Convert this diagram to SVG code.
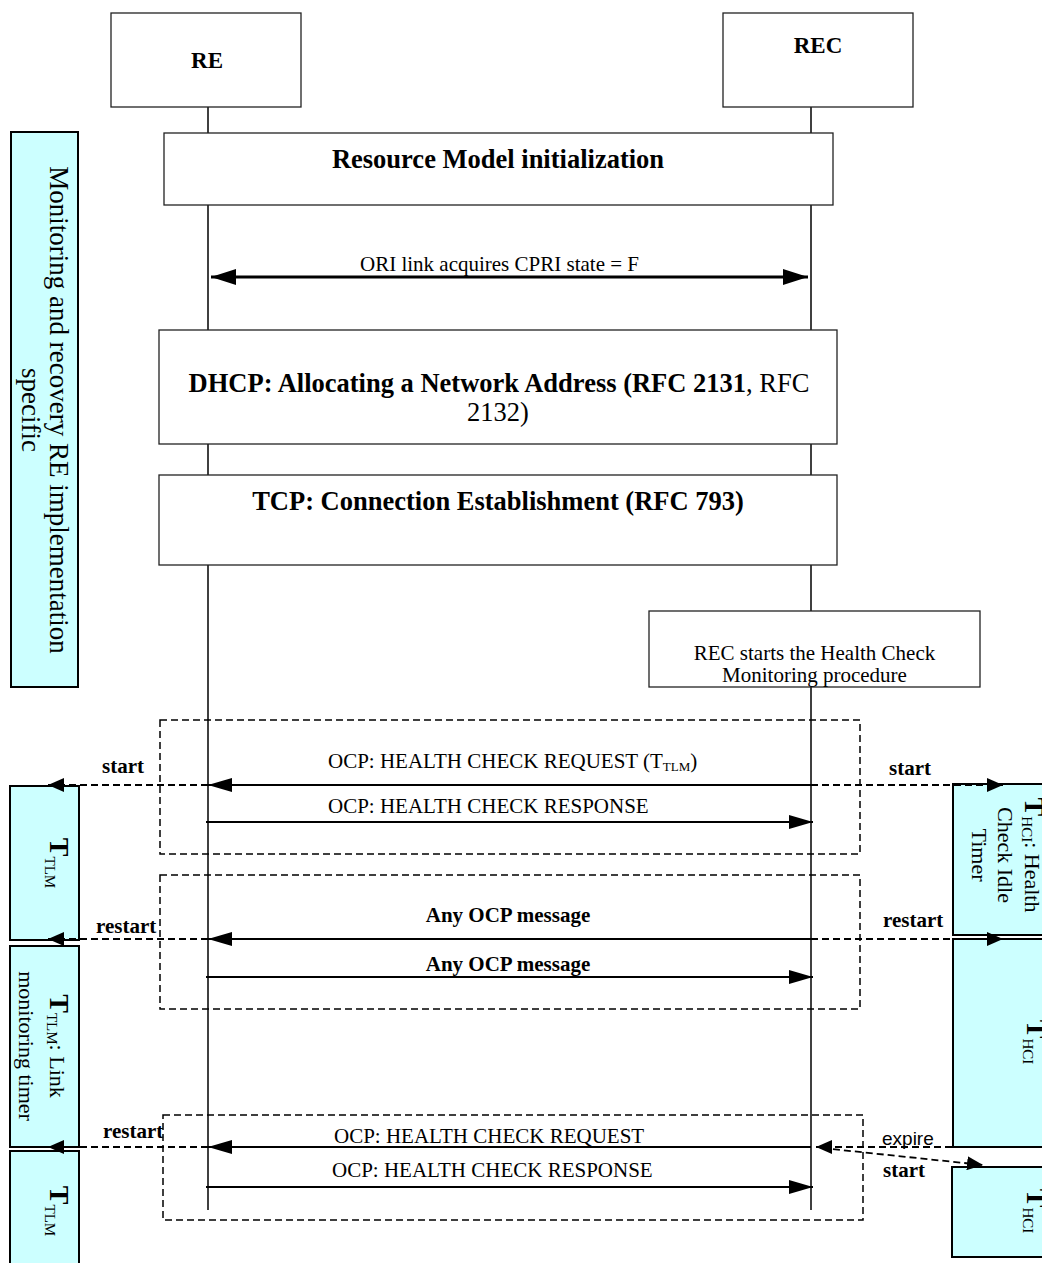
<svg xmlns="http://www.w3.org/2000/svg" width="1042" height="1263" viewBox="0 0 1042 1263">
<style>
.box{fill:#fff;stroke:#222;stroke-width:1.3}
.cyan{fill:#CCFFFF;stroke:#000;stroke-width:2}
.life{stroke:#000;stroke-width:1.5;fill:none}
.dbox{fill:none;stroke:#000;stroke-width:1.5;stroke-dasharray:7 4}
.msg{stroke:#000;stroke-width:1.8;fill:none}
.dash{stroke:#000;stroke-width:1.8;stroke-dasharray:7 4;fill:none}
text{font-family:"Liberation Serif","Times New Roman",serif;fill:#000}
.h{font-size:26.5px;font-weight:bold}
.m{font-size:21px}
.b{font-size:21px;font-weight:bold}
.v{font-size:27px}
.r{font-size:22px}
.big{font-size:28px;font-weight:bold}
.sub{font-size:15px;font-weight:normal}
.sans{font-family:"Liberation Sans",Arial,sans-serif;font-size:19px}
</style>
<defs>
<marker id="ah" markerUnits="userSpaceOnUse" markerWidth="24" markerHeight="14" refX="24" refY="7" orient="auto"><path d="M0,0 L24,7 L0,14 z" fill="#000"/></marker>
<marker id="ahs" markerUnits="userSpaceOnUse" markerWidth="16" markerHeight="14" refX="16" refY="7" orient="auto"><path d="M0,0 L16,7 L0,14 z" fill="#000"/></marker>
<marker id="ahb" markerUnits="userSpaceOnUse" markerWidth="25" markerHeight="16" refX="25" refY="8" orient="auto-start-reverse"><path d="M0,0 L25,8 L0,16 z" fill="#000"/></marker>
</defs>

<g id="lifelines">
<line class="life" x1="208" y1="107" x2="208" y2="1210"/>
<line class="life" x1="811" y1="107" x2="811" y2="1210"/>
</g>

<g id="node-RE"><rect class="box" x="111" y="13" width="190" height="94"/><text class="h" x="207" y="68" text-anchor="middle" style="font-size:23px">RE</text></g>
<g id="node-REC"><rect class="box" x="723" y="13" width="190" height="94"/><text class="h" x="818" y="53" text-anchor="middle" style="font-size:23px">REC</text></g>

<g id="node-rm"><rect class="box" x="164" y="133" width="669" height="72"/><text class="h" x="498" y="168" text-anchor="middle">Resource Model initialization</text></g>

<g id="node-dhcp"><rect class="box" x="159" y="330" width="678" height="114"/>
<text class="h" x="499" y="392" text-anchor="middle">DHCP: Allocating a Network Address (RFC 2131<tspan font-weight="normal">, RFC</tspan></text>
<text class="h" x="498" y="421" text-anchor="middle" style="font-weight:normal">2132)</text></g>

<g id="node-tcp"><rect class="box" x="159" y="475" width="678" height="90"/><text class="h" x="498" y="510" text-anchor="middle">TCP: Connection Establishment (RFC 793)</text></g>

<g id="node-hcstart"><rect class="box" x="649" y="611" width="331" height="76"/>
<text class="m" x="814.5" y="660" text-anchor="middle">REC starts the Health Check</text>
<text class="m" x="814.5" y="682" text-anchor="middle">Monitoring procedure</text></g>

<g id="node-monitor"><rect class="cyan" x="11" y="132" width="67" height="555"/>
<g transform="translate(44,410) rotate(90)">
<text class="v" x="0" y="-6" text-anchor="middle">Monitoring and recovery RE implementation</text>
<text class="v" x="0" y="22" text-anchor="middle">specific</text></g></g>

<g id="dashed-groups">
<rect class="dbox" x="160" y="720" width="700" height="134"/>
<rect class="dbox" x="160" y="875" width="700" height="134"/>
<rect class="dbox" x="163" y="1115" width="700" height="105"/>
</g>

<g id="node-ttlm1"><rect class="cyan" x="10" y="786" width="69" height="154"/>
<g transform="translate(44,863) rotate(90)"><text x="0" y="-6" text-anchor="middle"><tspan class="big">T</tspan><tspan class="sub" dy="5">TLM</tspan></text></g></g>
<g id="node-ttlm2"><rect class="cyan" x="10" y="946" width="69" height="201"/>
<g transform="translate(44,1046) rotate(90)"><text x="0" y="-6" text-anchor="middle"><tspan class="big">T</tspan><tspan class="sub" dy="3">TLM</tspan><tspan class="r" dy="-3">: Link</tspan></text>
<text class="r" x="0" y="25" text-anchor="middle">monitoring timer</text></g></g>
<g id="node-ttlm3"><rect class="cyan" x="10" y="1151" width="69" height="120"/>
<g transform="translate(44,1211) rotate(90)"><text x="0" y="-6" text-anchor="middle"><tspan class="big">T</tspan><tspan class="sub" dy="5">TLM</tspan></text></g></g>

<g id="node-thci1"><rect class="cyan" x="953" y="784" width="100" height="151"/>
<g transform="translate(1000,855) rotate(90)"><text x="0" y="-25" text-anchor="middle"><tspan class="big">T</tspan><tspan class="sub" dy="3">HCI</tspan><tspan class="r" dy="-3">: Health</tspan></text>
<text class="r" x="0" y="2" text-anchor="middle">Check Idle</text>
<text class="r" x="0" y="28" text-anchor="middle">Timer</text></g></g>
<g id="node-thci2"><rect class="cyan" x="953" y="939" width="100" height="208"/>
<g transform="translate(1000,1042) rotate(90)"><text x="0" y="-27" text-anchor="middle"><tspan class="big">T</tspan><tspan class="sub" dy="4">HCI</tspan></text></g></g>
<g id="node-thci3"><rect class="cyan" x="952" y="1167" width="100" height="90"/>
<g transform="translate(1000,1211) rotate(90)"><text x="0" y="-27" text-anchor="middle"><tspan class="big">T</tspan><tspan class="sub" dy="4">HCI</tspan></text></g></g>

<g id="connectors">
<line x1="211" y1="277" x2="808" y2="277" stroke="#000" stroke-width="3" marker-start="url(#ahb)" marker-end="url(#ahb)"/>
<line class="msg" x1="811" y1="785" x2="208" y2="785" marker-end="url(#ah)"/>
<line class="msg" x1="206" y1="822" x2="813" y2="822" marker-end="url(#ah)"/>
<line class="msg" x1="811" y1="939" x2="208" y2="939" marker-end="url(#ah)"/>
<line class="msg" x1="206" y1="977" x2="813" y2="977" marker-end="url(#ah)"/>
<line class="msg" x1="811" y1="1147" x2="208" y2="1147" marker-end="url(#ah)"/>
<line class="msg" x1="206" y1="1187" x2="813" y2="1187" marker-end="url(#ah)"/>
<line class="dash" x1="208" y1="785" x2="48" y2="785" marker-end="url(#ahs)"/>
<line class="dash" x1="208" y1="939" x2="48" y2="939" marker-end="url(#ahs)"/>
<line class="dash" x1="208" y1="1147" x2="48" y2="1147" marker-end="url(#ahs)"/>
<line class="dash" x1="811" y1="785" x2="1003" y2="785" marker-end="url(#ahs)"/>
<line class="dash" x1="811" y1="939" x2="1003" y2="939" marker-end="url(#ahs)"/>
<line class="dash" x1="952" y1="1147" x2="816" y2="1147" marker-end="url(#ahs)"/>
<line class="dash" x1="822" y1="1148" x2="983" y2="1165" marker-end="url(#ahs)"/>
</g>

<g id="labels">
<text class="m" x="499.5" y="271" text-anchor="middle">ORI link acquires CPRI state = F</text>
<text class="m" x="328" y="768">OCP: HEALTH CHECK REQUEST (T<tspan font-size="13" dy="3">TLM</tspan><tspan dy="-3">)</tspan></text>
<text class="m" x="328" y="813">OCP: HEALTH CHECK RESPONSE</text>
<text class="b" x="508" y="922" text-anchor="middle">Any OCP message</text>
<text class="b" x="508" y="971" text-anchor="middle">Any OCP message</text>
<text class="m" x="334" y="1143">OCP: HEALTH CHECK REQUEST</text>
<text class="m" x="332" y="1177">OCP: HEALTH CHECK RESPONSE</text>
<text class="b" x="102" y="773">start</text>
<text class="b" x="96" y="933">restart</text>
<text class="b" x="103" y="1138">restart</text>
<text class="b" x="889" y="775">start</text>
<text class="b" x="883" y="927">restart</text>
<text class="sans" x="882" y="1145">expire</text>
<text class="b" x="883" y="1177">start</text>
</g>
</svg>
